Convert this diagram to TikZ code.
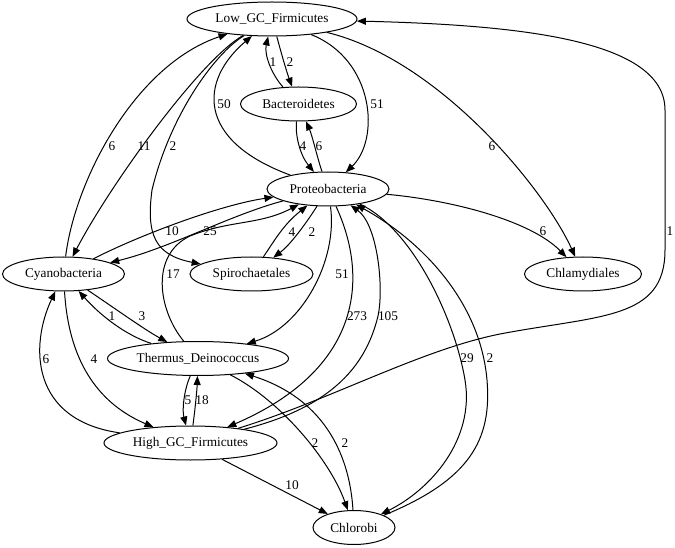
\documentclass[tikz,border=0pt]{standalone}
\usepackage{fontspec}
\setmainfont{Liberation Serif}
\usetikzlibrary{shapes.geometric, arrows.meta}

\tikzset{
  taxon/.style={draw, ellipse, minimum height=34pt, inner sep=0pt, line width=1pt},
  link/.style={-{Triangle[length=9pt,width=7pt]}, line width=1pt},
  num/.style={inner sep=0pt},
}

\begin{document}
\begin{tikzpicture}[x=1pt, y=-1pt, font=\fontsize{13.3}{16}\selectfont]

  \useasboundingbox (0,0) rectangle (675,548);

  % The taxa
  \node[taxon, minimum width=170pt] (low)  at (272,19)    {Low\_GC\_Firmicutes};
  \node[taxon, minimum width=116pt] (bact) at (298.5,104) {Bacteroidetes};
  \node[taxon, minimum width=122pt] (prot) at (328,189)   {Proteobacteria};
  \node[taxon, minimum width=122pt] (cyan) at (63.5,274)  {Cyanobacteria};
  \node[taxon, minimum width=123pt] (spir) at (251.5,274) {Spirochaetales};
  \node[taxon, minimum width=117pt] (chla) at (583,274)   {Chlamydiales};
  \node[taxon, minimum width=181pt] (ther) at (198,358.5) {Thermus\_Deinococcus};
  \node[taxon, minimum width=173pt] (high) at (190.5,443) {High\_GC\_Firmicutes};
  \node[taxon, minimum width=82pt]  (chlo) at (354,527.5) {Chlorobi};

  % Edges around Low_GC_Firmicutes
  \draw[link] (bact) .. controls (272,75) and (264,55) .. (low);
  \draw[link] (low) .. controls (281,52) and (286,70) .. (bact);
  \draw[link] (prot) .. controls (195,140) and (200,80) .. (low);
  \draw[link] (low) .. controls (375,60) and (380,140) .. (prot);
  \draw[link] (low) .. controls (440,60) and (545,190) .. (chla);
  \draw[link] (cyan) .. controls (75,180) and (135,65) .. (low);
  \draw[link] (low) .. controls (200,60) and (110,185) .. (cyan);
  \draw[link] (low) .. controls (215,53) and (170,115) .. (152,190)
                    .. controls (146,235) and (155,255) .. (spir);
  \draw[link] (high) .. controls (330,400) and (420,350) .. (500,334)
                     .. controls (600,315) and (665,320) .. (665,250)
                     -- (665,110) .. controls (665,40) and (520,25) .. (low);

  % Edges around Proteobacteria
  \draw[link] (bact) .. controls (295,135) and (300,155) .. (prot);
  \draw[link] (prot) .. controls (318,160) and (312,135) .. (bact);
  \draw[link] (prot) .. controls (230,215) and (170,248) .. (cyan);
  \draw[link] (cyan) .. controls (140,235) and (220,205) .. (prot);
  \draw[link] (ther) .. controls (158,310) and (150,255) .. (190,236)
                     .. controls (230,220) and (260,225) .. (prot);
  \draw[link] (spir) .. controls (275,240) and (283,225) .. (prot);
  \draw[link] (prot) .. controls (305,225) and (290,245) .. (spir);
  \draw[link] (prot) .. controls (450,200) and (530,220) .. (chla);
  \draw[link] (prot) .. controls (338,260) and (302,327) .. (ther);
  \draw[link] (prot) .. controls (370,280) and (360,370) .. (high);
  \draw[link] (high) .. controls (327,408) and (365,370) .. (378,316)
                     .. controls (384,289) and (378,225) .. (prot);
  \draw[link] (prot) .. controls (413,229) and (455,320) .. (465,380)
                     .. controls (475,440) and (430,490) .. (chlo);
  \draw[link] (chlo) .. controls (470,480) and (492,440) .. (487,380)
                     .. controls (480,300) and (420,240) .. (prot);

  % Edges in the lower part
  \draw[link] (ther) .. controls (125,335) and (100,315) .. (cyan);
  \draw[link] (cyan) .. controls (110,305) and (145,330) .. (ther);
  \draw[link] (high) .. controls (30,420) and (30,345) .. (cyan);
  \draw[link] (cyan) .. controls (68,350) and (90,400) .. (high);
  \draw[link] (ther) .. controls (184,390) and (182,410) .. (high);
  \draw[link] (high) .. controls (195,410) and (197,390) .. (ther);
  \draw[link] (ther) .. controls (280,400) and (330,460) .. (chlo);
  \draw[link] (chlo) .. controls (350,460) and (328,400) .. (ther);
  \draw[link] (high) -- (chlo);

  % Edge weights
  \node[num] (w1)  at (273,62)  {1};
  \node[num] (w2)  at (290,62)  {2};
  \node[num] (w3)  at (224,104) {50};
  \node[num] (w4)  at (377,104) {51};
  \node[num] (w5)  at (112,146) {6};
  \node[num] (w6)  at (144,146) {11};
  \node[num] (w7)  at (173,146) {2};
  \node[num] (w8)  at (303,146) {4};
  \node[num] (w9)  at (319,146) {6};
  \node[num] (w10) at (492,146) {6};
  \node[num] (w11) at (670,231) {1};
  \node[num] (w12) at (172,231) {10};
  \node[num] (w13) at (210,231) {25};
  \node[num] (w14) at (292,232) {4};
  \node[num] (w15) at (312,232) {2};
  \node[num] (w16) at (543,231) {6};
  \node[num] (w17) at (173,274) {17};
  \node[num] (w18) at (342,274) {51};
  \node[num] (w19) at (112,316) {1};
  \node[num] (w20) at (142,316) {3};
  \node[num] (w21) at (357,316) {273};
  \node[num] (w22) at (388,316) {105};
  \node[num] (w23) at (46,359)  {6};
  \node[num] (w24) at (94,359)  {4};
  \node[num] (w25) at (467,358) {29};
  \node[num] (w26) at (490,358) {2};
  \node[num] (w27) at (188,400) {5};
  \node[num] (w28) at (202,400) {18};
  \node[num] (w29) at (315,443) {2};
  \node[num] (w30) at (345,443) {2};
  \node[num] (w31) at (292,485) {10};

\end{tikzpicture}
\end{document}
